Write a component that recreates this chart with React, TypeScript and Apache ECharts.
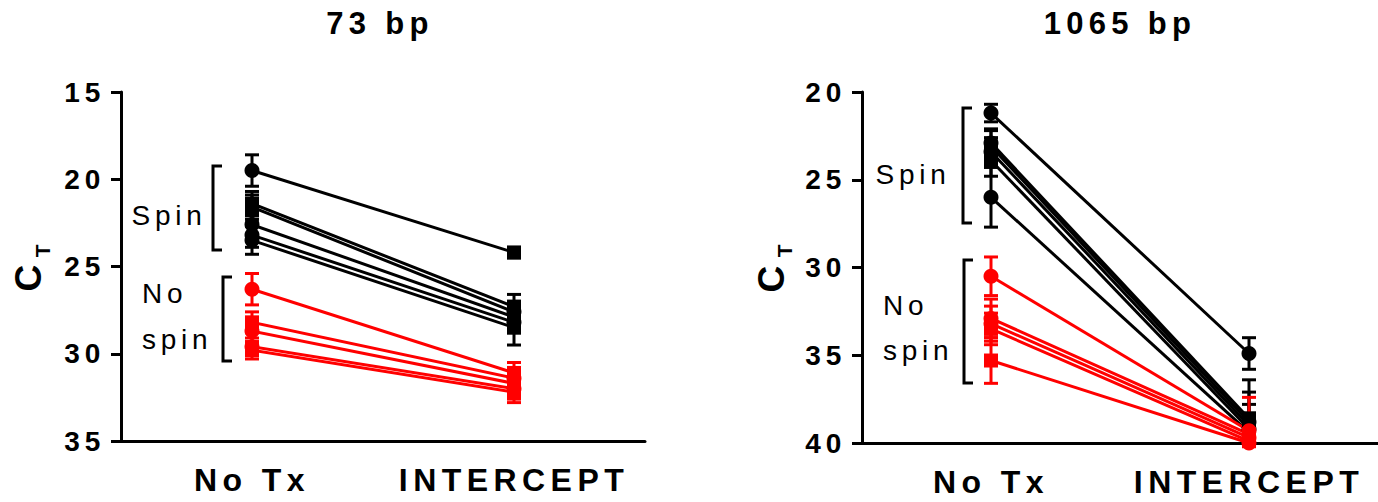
import React, { useEffect, useRef } from "react";
import * as echarts from "echarts";

const CATS = ["No Tx", "INTERCEPT"];

// 73 bp panel
const L_SPIN_NOTX = [19.5, 21.4, 21.6, 22.6, 23.2, 23.5];
const L_SPIN_INT = [24.2, 27.3, 27.6, 27.9, 28.2, 28.5];
const L_SPIN_NOTX_ERR = [0.9, 0.7, 0.7, 0.6, 0.7, 0.8];
const L_SPIN_INT_ERR = [0.3, 0.7, 0.6, 0.7, 0.6, 1.0];
const L_NOSPIN_NOTX = [26.3, 28.2, 28.7, 29.6, 29.8];
const L_NOSPIN_INT = [31.1, 31.4, 31.7, 32.0, 32.2];
const L_NOSPIN_NOTX_ERR = [0.9, 0.6, 0.7, 0.5, 0.5];
const L_NOSPIN_INT_ERR = [0.6, 0.5, 0.6, 0.6, 0.6];

// 1065 bp panel
const R_SPIN_NOTX = [21.2, 22.9, 23.1, 23.4, 23.9, 26.0];
const R_SPIN_INT = [34.9, 38.6, 38.8, 39.0, 39.2, 39.4];
const R_SPIN_NOTX_ERR = [0.5, 0.8, 0.9, 0.8, 0.9, 1.7];
const R_SPIN_INT_ERR = [0.9, 2.2, 1.7, 1.2, 0.9, 0.6];
const R_NOSPIN_NOTX = [30.5, 32.9, 33.2, 33.5, 35.3];
const R_NOSPIN_INT = [39.3, 39.5, 39.7, 39.9, 40.0];
const R_NOSPIN_NOTX_ERR = [1.1, 1.1, 1.0, 0.9, 1.3];
const R_NOSPIN_INT_ERR = [1.9, 1.0, 0.8, 0.6, 0.4];

const L_SPIN_SYM = [["circle", "rect"], ["rect", "rect"], ["rect", "circle"], ["circle", "rect"], ["circle", "circle"], ["circle", "rect"]];
const L_NOSPIN_SYM = [["circle", "rect"], ["rect", "circle"], ["circle", "rect"], ["circle", "circle"], ["rect", "rect"]];
const R_SPIN_SYM = [["circle", "circle"], ["circle", "rect"], ["rect", "circle"], ["circle", "rect"], ["rect", "circle"], ["circle", "rect"]];
const R_NOSPIN_SYM = [["circle", "circle"], ["circle", "rect"], ["circle", "circle"], ["rect", "rect"], ["rect", "circle"]];

const FONT = "'Liberation Sans', Arial, Helvetica, sans-serif";
const BLACK = "#000000";
const RED = "#ff0000";

function lineSeries(grid: number, a: number[], b: number[], syms: string[][], color: string) {
  return a.map((v, i) => ({
    type: "line",
    xAxisIndex: grid,
    yAxisIndex: grid,
    clip: false,
    z: 3,
    lineStyle: { color, width: 3 },
    itemStyle: { color },
    data: [
      { value: v, symbol: syms[i][0], symbolSize: syms[i][0] === "rect" ? 14 : 15 },
      { value: b[i], symbol: syms[i][1], symbolSize: syms[i][1] === "rect" ? 14 : 15 },
    ],
  }));
}

function errSeries(grid: number, a: number[], ae: number[], b: number[], be: number[], color: string) {
  const data: number[][] = [];
  a.forEach((v, i) => data.push([0, v, ae[i]]));
  b.forEach((v, i) => data.push([1, v, be[i]]));
  return {
    type: "custom",
    xAxisIndex: grid,
    yAxisIndex: grid,
    clip: true,
    z: 2,
    data,
    renderItem: (_p: any, api: any) => {
      const x = api.value(0);
      const v = api.value(1);
      const e = api.value(2);
      const t = api.coord([x, v - e]);
      const bt = api.coord([x, v + e]);
      const hw = 7;
      const st = { stroke: color, lineWidth: 3 };
      return {
        type: "group",
        children: [
          { type: "line", shape: { x1: t[0], y1: t[1], x2: bt[0], y2: bt[1] }, style: st },
          { type: "line", shape: { x1: t[0] - hw, y1: t[1], x2: t[0] + hw, y2: t[1] }, style: st },
          { type: "line", shape: { x1: bt[0] - hw, y1: bt[1], x2: bt[0] + hw, y2: bt[1] }, style: st },
        ],
      };
    },
  };
}

function bracket(x: number, y1: number, y2: number) {
  const st = { stroke: BLACK, lineWidth: 3, fill: "none" };
  return {
    type: "polyline",
    shape: { points: [[x + 9, y1], [x, y1], [x, y2], [x + 9, y2]] },
    style: st,
  };
}

function txt(x: number, y: number, text: string, size: number, weight: string, align = "center", rotation = 0) {
  return {
    type: "text",
    x,
    y,
    rotation,
    style: {
      text,
      fontSize: size,
      fontWeight: weight,
      fontFamily: FONT,
      fill: BLACK,
      align,
      verticalAlign: "middle",
    },
  };
}

export default function App() {
  const ref = useRef<HTMLDivElement>(null);
  useEffect(() => {
    if (!ref.current) return;
    const chart = echarts.init(ref.current, undefined, { renderer: "svg" });
    const xAxisBase = {
      type: "category",
      data: CATS,
      boundaryGap: true,
      axisLine: { lineStyle: { color: BLACK, width: 3 } },
      axisTick: { alignWithLabel: true, length: 10, lineStyle: { color: BLACK, width: 3 } },
      axisLabel: { color: BLACK, fontSize: 32, fontWeight: "bold", fontFamily: FONT, margin: 23 },
      splitLine: { show: false },
    };
    const yAxisBase = {
      type: "value",
      inverse: true,
      interval: 5,
      axisLine: { show: true, lineStyle: { color: BLACK, width: 3 } },
      axisTick: { show: true, length: 10, lineStyle: { color: BLACK, width: 3 } },
      axisLabel: { color: BLACK, fontSize: 28, fontWeight: "bold", fontFamily: FONT, margin: 16 },
      splitLine: { show: false },
    };
    chart.setOption({
      animation: false,
      backgroundColor: "#ffffff",
      grid: [
        { left: 121, top: 92, width: 524, height: 349 },
        { left: 862, top: 92, width: 526, height: 351 },
      ],
      xAxis: [
        { ...xAxisBase, gridIndex: 0 },
        { ...xAxisBase, gridIndex: 1 },
      ],
      yAxis: [
        { ...yAxisBase, gridIndex: 0, min: 15, max: 35 },
        { ...yAxisBase, gridIndex: 1, min: 20, max: 40 },
      ],
      series: [
        errSeries(0, L_SPIN_NOTX, L_SPIN_NOTX_ERR, L_SPIN_INT, L_SPIN_INT_ERR, BLACK),
        ...lineSeries(0, L_SPIN_NOTX, L_SPIN_INT, L_SPIN_SYM, BLACK),
        errSeries(0, L_NOSPIN_NOTX, L_NOSPIN_NOTX_ERR, L_NOSPIN_INT, L_NOSPIN_INT_ERR, RED),
        ...lineSeries(0, L_NOSPIN_NOTX, L_NOSPIN_INT, L_NOSPIN_SYM, RED),
        errSeries(1, R_SPIN_NOTX, R_SPIN_NOTX_ERR, R_SPIN_INT, R_SPIN_INT_ERR, BLACK),
        ...lineSeries(1, R_SPIN_NOTX, R_SPIN_INT, R_SPIN_SYM, BLACK),
        errSeries(1, R_NOSPIN_NOTX, R_NOSPIN_NOTX_ERR, R_NOSPIN_INT, R_NOSPIN_INT_ERR, RED),
        ...lineSeries(1, R_NOSPIN_NOTX, R_NOSPIN_INT, R_NOSPIN_SYM, RED),
      ],
      graphic: [
        txt(380, 23, "73 bp", 31, "bold"),
        txt(1120, 23, "1065 bp", 31, "bold"),
        txt(28, 275, "C", 37, "bold", "center", Math.PI / 2),
        txt(42, 249, "T", 21, "bold", "center", Math.PI / 2),
        txt(771, 276, "C", 37, "bold", "center", Math.PI / 2),
        txt(784, 249, "T", 21, "bold", "center", Math.PI / 2),
        bracket(213, 166, 250),
        bracket(223, 277, 361),
        bracket(963, 108, 223),
        bracket(964, 260, 383),
        txt(169, 215, "Spin", 28, "normal"),
        txt(142, 293, "No", 28, "normal", "left"),
        txt(142, 339, "spin", 28, "normal", "left"),
        txt(913, 174, "Spin", 28, "normal"),
        txt(883, 305, "No", 28, "normal", "left"),
        txt(883, 350, "spin", 28, "normal", "left"),
      ],
    });
    return () => chart.dispose();
  }, []);
  return (
    <>
      <style>{`.ct-chart text { letter-spacing: 0.17em; }`}</style>
      <div
        ref={ref}
        className="ct-chart"
        style={{ position: "absolute", left: 0, top: 0, width: 1378, height: 502, overflow: "hidden" }}
      />
    </>
  );
}
